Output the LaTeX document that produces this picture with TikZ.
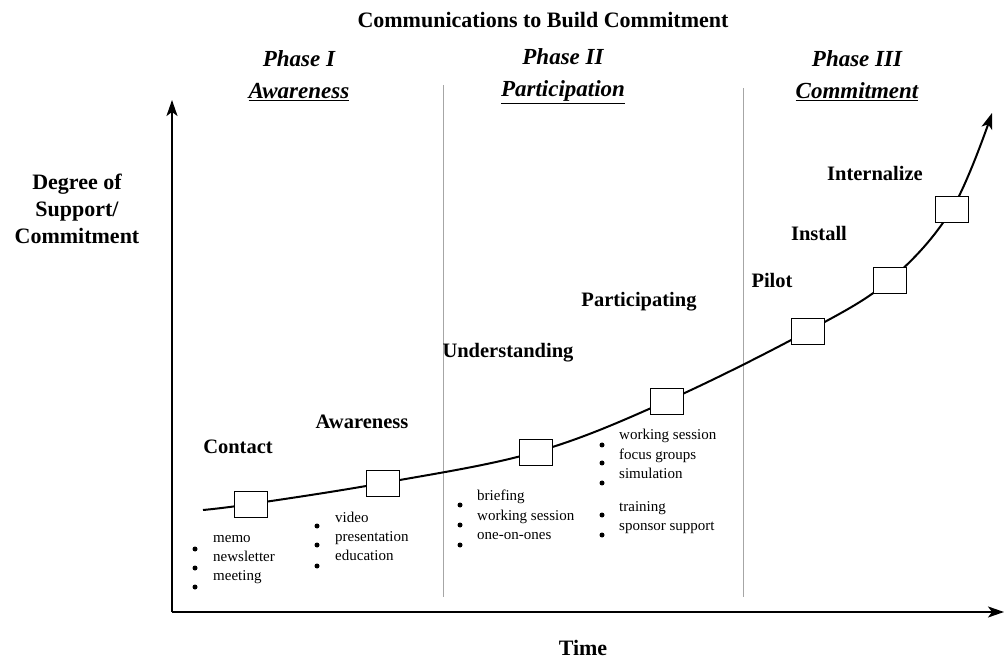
\documentclass[tikz,border=0pt]{standalone}
\usepackage{fontspec}
\setmainfont{Liberation Serif}
\usetikzlibrary{arrows.meta}
\begin{document}
\begin{tikzpicture}[x=1pt,y=-1pt,
  lab/.style={font=\bfseries\fontsize{20.5}{22}\selectfont, inner sep=0pt},
  phase/.style={font=\bfseries\itshape\fontsize{23}{32}\selectfont, align=center, inner sep=0pt},
  item/.style={font=\fontsize{15}{19}\selectfont, anchor=west, inner sep=0pt, text height=1.4ex, text depth=.3ex},
  stagebox/.style={draw, fill=white, minimum width=33pt, minimum height=26pt, inner sep=0pt, line width=0.8pt},
  sep/.style={draw=black!35, line width=1pt},
  axis/.style={line width=2pt, -{Stealth[length=16pt,width=11pt,inset=4pt]}},
  dot/.style={circle, fill, inner sep=0pt, minimum size=5pt}]
\useasboundingbox (0,0) rectangle (1005,660);

% title
\node[font=\bfseries\fontsize{22}{24}\selectfont] (title) at (543,20) {Communications to Build Commitment};

% phases
\node[phase] (ph1) at (299,76) {Phase I\\\underline{Awareness}};
\node[phase] (ph2) at (563,76) {Phase II\\\underline{Participation}};
\node[phase] (ph3) at (857,76) {Phase III\\\underline{Commitment}};

% separators
\coordinate (s1t) at (443,85); \coordinate (s1b) at (443,597);
\coordinate (s2t) at (743,88); \coordinate (s2b) at (743,597);
\draw[sep] (s1t) -- (s1b);
\draw[sep] (s2t) -- (s2b);

% axes
\coordinate (o) at (172,612);
\coordinate (ytip) at (172,100);
\coordinate (xtip) at (1004,612);
\draw[axis] (o) -- (ytip);
\draw[axis] (o) -- (xtip);
\node[font=\bfseries\fontsize{22}{27}\selectfont, align=center] (ylab) at (77,209) {Degree of\\Support/\\Commitment};
\node[font=\bfseries\fontsize{22}{24}\selectfont] (xlab) at (583,648) {Time};

% curve
\coordinate (c0) at (203,510);
\coordinate (c1) at (251,504);
\coordinate (c2) at (383,483);
\coordinate (c3) at (536,452);
\coordinate (c4) at (667,401);
\coordinate (c5) at (808,331);
\coordinate (c6) at (890,280);
\coordinate (c7) at (952,209);
\coordinate (c8) at (992,113);
\draw[line width=2pt, -{Stealth[length=16pt,width=11pt,inset=4pt]}] plot[smooth, tension=0.6] coordinates {(c0) (c1) (c2) (c3) (c4) (c5) (c6) (c7) (c8)};

\node[stagebox] (b1) at (c1) {};
\node[stagebox] (b2) at (c2) {};
\node[stagebox] (b3) at (c3) {};
\node[stagebox] (b4) at (c4) {};
\node[stagebox] (b5) at (c5) {};
\node[stagebox] (b6) at (c6) {};
\node[stagebox] (b7) at (c7) {};

% stage labels
\node[lab] (l1) at (238,447) {Contact};
\node[lab] (l2) at (362,422) {Awareness};
\node[lab] (l3) at (508,353) {Understanding};
\node[lab] (l4) at (639,302) {Participating};
\node[lab] (l5) at (772,280) {Pilot};
\node[lab] (l6) at (819,233) {Install};
\node[lab] (l7) at (875,173) {Internalize};

% list A
\node[item] (a1) at (213,540) {memo};
\node[item] (a2) at (213,559) {newsletter};
\node[item] (a3) at (213,578) {meeting};
\node[dot] (da1) at (195,549) {};
\node[dot] (da2) at (195,568) {};
\node[dot] (da3) at (195,587) {};

% list B
\node[item] (bb1) at (335,520) {video};
\node[item] (bb2) at (335,539) {presentation};
\node[item] (bb3) at (335,558) {education};
\node[dot] (db1) at (317,526) {};
\node[dot] (db2) at (317,545) {};
\node[dot] (db3) at (317,566) {};

% list C
\node[item] (cc1) at (477,498) {briefing};
\node[item] (cc2) at (477,518) {working session};
\node[item] (cc3) at (477,537) {one-on-ones};
\node[dot] (dc1) at (460,505) {};
\node[dot] (dc2) at (460,525) {};
\node[dot] (dc3) at (460,545) {};

% list D
\node[item] (dd1) at (619,437) {working session};
\node[item] (dd2) at (619,457) {focus groups};
\node[item] (dd3) at (619,476) {simulation};
\node[item] (dd4) at (619,509) {training};
\node[item] (dd5) at (619,528) {sponsor support};
\node[dot] (de1) at (602,445) {};
\node[dot] (de2) at (602,463) {};
\node[dot] (de3) at (602,483) {};
\node[dot] (de4) at (602,515) {};
\node[dot] (de5) at (602,535) {};
\end{tikzpicture}
\end{document}
